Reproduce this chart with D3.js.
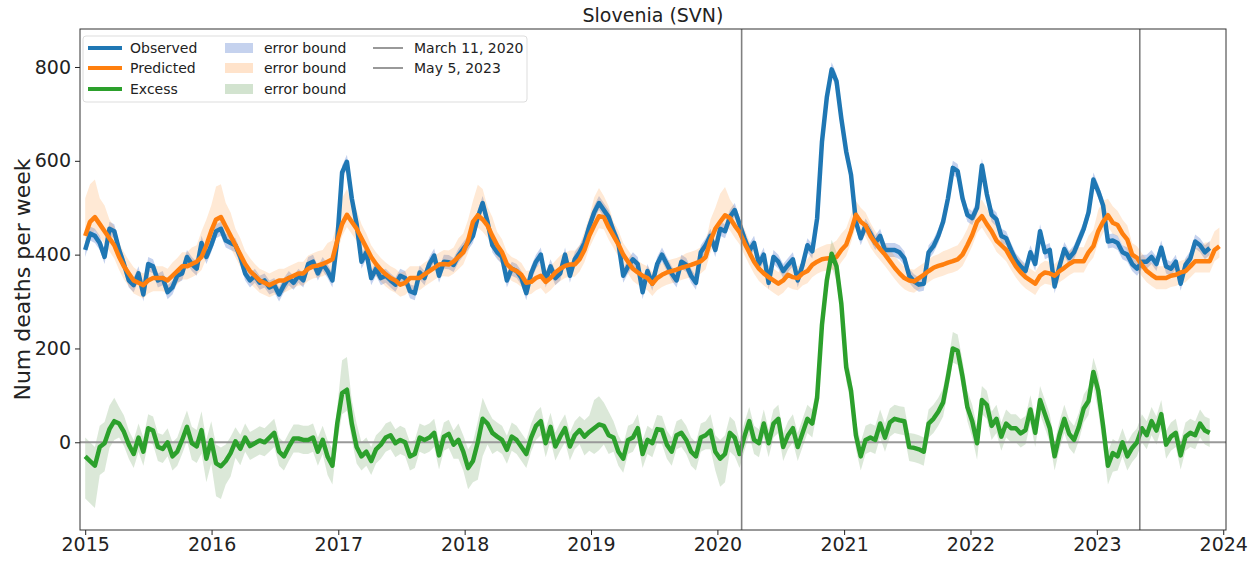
<!DOCTYPE html>
<html><head><meta charset="utf-8">
<script src="https://cdn.jsdelivr.net/npm/d3@7"></script>
<style>
body{margin:0;background:#fff;}
svg{display:block;font-family:"DejaVu Sans",sans-serif;}
</style></head><body>
<svg id="c" width="1259" height="561"></svg>
<script>
// ---- data (biweekly samples starting at startDate) ----
const startDate = "2015-01-01";
const stepDays = 14;
const observed = [
410,445,440,425,395,455,450,410,380,345,
335,360,315,380,375,345,350,320,330,355,
360,395,380,370,425,395,420,450,455,430,
425,420,395,360,345,355,340,345,330,335,
315,335,350,340,355,345,380,385,
360,380,365,345,430,575,598,520,465,385,
405,350,370,350,355,345,336,355,350,322,
318,362,350,380,398,355,385,384,378,398,
412,425,440,480,510,470,420,405,395,345,
370,365,350,318,360,385,400,
345,375,350,360,400,355,390,405,425,460,
490,510,495,480,450,425,355,375,390,380,
320,365,338,380,400,380,360,345,385,378,
355,340,405,420,440,410,455,450,480,495,
465,435,408,425,380,400,340,
395,385,365,378,390,345,378,420,407,477,
640,735,795,770,690,620,570,470,435,462,
445,425,440,410,410,410,405,392,355,343,
336,338,405,418,440,470,520,585,578,520,
485,478,500,590,530,485,475,440,
435,410,388,375,365,405,380,450,405,410,
332,375,412,393,405,430,455,490,560,535,
505,428,430,425,405,400,380,370,385,385,
395,380,415,375,370,385,338,378,392,428,
420,405,414];
const predicted = [
440,470,480,465,450,435,420,395,375,360,
345,340,335,345,350,350,350,345,355,365,
375,375,380,385,395,420,450,475,480,460,
440,420,400,380,365,355,345,340,335,340,
345,345,350,355,360,360,370,375,
377,380,385,390,430,465,485,470,455,435,
415,395,380,368,358,350,345,336,340,350,
350,350,358,365,372,379,380,379,385,395,
405,430,470,484,475,462,440,420,405,380,
370,365,357,340,342,350,355,
342,350,362,370,376,379,379,390,410,440,
462,482,480,458,440,422,400,385,370,362,
355,350,338,350,357,362,365,368,372,375,
378,382,386,395,430,455,470,484,478,462,
448,425,405,385,370,360,352,
345,338,345,357,352,350,360,365,378,385,
390,392,393,395,410,421,450,485,470,462,
440,425,412,400,386,372,360,350,345,343,
350,357,365,372,376,379,383,386,390,400,
420,442,470,482,465,450,430,420,
410,392,375,362,352,345,338,355,362,360,
355,365,372,380,386,386,386,405,418,450,
470,484,468,463,445,432,400,393,378,365,
357,350,350,350,355,357,362,365,375,386,
386,386,386,410,418];
const excess = [
-30,-40,-50,-10,-2,28,45,40,22,-5,
-25,10,-20,30,25,-10,-14,0,-30,-20,
5,33,-2,-9,26,-35,5,-45,-51,-40,
-23,2,-14,10,-8,-2,4,0,10,20,
-20,-30,-10,8,8,5,5,10,
-20,5,-30,-50,40,105,112,40,-10,-30,
-20,-40,-15,-5,10,15,-2,5,0,-30,
-25,10,5,10,20,-28,12,18,-5,5,
-20,-55,-40,0,50,40,20,12,5,-16,
12,5,-10,-25,10,35,45,
-2,33,-9,12,30,-9,15,26,12,22,
30,38,35,15,10,-20,-35,5,10,30,
-25,5,-2,28,26,-5,-20,15,20,5,
-20,-30,10,15,25,-20,-35,-25,20,10,
-25,12,45,5,-2,40,-2,
40,50,-10,15,30,-10,20,50,40,95,
250,345,402,375,295,160,110,15,-30,5,
10,5,40,10,42,50,47,45,-10,-12,
-15,-20,40,50,65,85,140,200,195,140,
75,45,-2,90,80,35,50,12,
40,30,30,19,26,70,20,90,60,30,
-30,15,50,18,5,33,72,88,150,110,
35,-50,-23,-30,0,-30,-12,0,30,15,
45,25,60,-5,12,20,-28,12,20,15,
40,25,20];
// error half-widths: per year
const obsErr = [15,15,15,15,15,15,15,15,15];
const predLoErr = [28,26,26,26,26,26,24,24,24];
// error half-widths: per month (Jan 2015 .. Dec 2023)
const predHiErr = [
80,55,40,30,28,25,25,25,28,30,35,55,
70,50,35,28,25,25,25,25,25,28,30,40,
55,40,30,25,25,25,25,25,25,25,30,40,
45,65,40,28,25,25,25,25,25,28,30,40,
60,45,30,25,25,25,25,25,25,28,30,45,
60,40,30,25,25,25,25,25,25,28,30,35,
35,30,28,25,25,25,25,25,25,28,30,35,
40,35,30,25,25,25,25,25,25,28,30,35,
45,35,30,25,25,25,25,25,25,28,40,40];
const excLoErr = [
90,60,40,30,30,30,30,30,30,30,35,50,
70,50,35,30,30,30,30,30,30,30,30,40,
45,35,30,30,30,30,30,30,30,30,30,40,
45,80,45,30,30,30,30,30,30,30,30,40,
55,40,30,30,30,30,30,30,30,30,30,40,
60,40,30,30,30,30,30,30,30,30,30,30,
30,30,30,30,30,30,30,30,30,30,30,30,
35,30,30,30,30,30,30,30,30,30,30,30,
45,40,30,30,30,30,30,30,30,30,30,30];
const excHiErr = [
40,45,50,35,30,30,30,30,30,35,35,40,
40,35,30,30,30,30,30,30,30,30,30,35,
70,50,30,30,30,30,30,30,30,30,30,35,
40,45,30,30,30,30,30,30,30,30,30,35,
60,50,35,30,30,30,30,30,30,30,30,35,
40,35,30,30,30,30,30,30,30,30,30,30,
30,30,30,30,30,30,30,30,30,30,35,35,
35,30,30,30,30,30,30,30,30,30,30,30,
35,30,30,30,30,30,30,30,30,30,30,30];
const yearTicks = [2015,2016,2017,2018,2019,2020,2021,2022,2023,2024];
const yTicks = [0,200,400,600,800];
const markerDates = ["2020-03-11","2023-05-05"];
const markerLabels = ["March 11, 2020","May 5, 2023"];
const titleText = "Slovenia (SVN)";
const yLabel = "Num deaths per week";

// ---- drawing ----
const parse = d3.timeParse("%Y-%m-%d");
const t0 = parse(startDate);
const dateAt = i => d3.timeDay.offset(t0, i*stepDays);
const monthIdx = d => (d.getFullYear()-2015)*12 + d.getMonth();
const yearIdx = d => Math.min(8, d.getFullYear()-2015);

const L=80, R=1226, T=29, B=530;
const x = d3.scaleTime().domain([parse("2014-12-17"), parse("2024-01-09")]).range([L,R]);
const y = d3.scaleLinear().domain([-187, 881]).range([B,T]);

const svg = d3.select("#c");
const C = {obs:"#1f77b4", pred:"#ff7f0e", exc:"#2ca02c"};

const obsPts = observed.map((v,i)=>{const d=dateAt(i);return {d,v,lo:v-obsErr[yearIdx(d)],hi:v+obsErr[yearIdx(d)]};});
const predPts = predicted.map((v,i)=>{const d=dateAt(i);return {d,v,lo:v-predLoErr[yearIdx(d)],hi:v+predHiErr[monthIdx(d)]};});
const excPts = excess.map((v,i)=>{const d=dateAt(i);return {d,v,lo:v-excLoErr[monthIdx(d)],hi:v+excHiErr[monthIdx(d)]};});

const area = d3.area().x(p=>x(p.d)).y0(p=>y(p.lo)).y1(p=>y(p.hi));
const line = d3.line().x(p=>x(p.d)).y(p=>y(p.v));

const g = svg.append("g");
g.append("path").attr("d",area(excPts)).attr("fill","#8fb887").attr("opacity",0.32);
g.append("path").attr("d",area(obsPts)).attr("fill","#6d8fd4").attr("opacity",0.4);
g.append("path").attr("d",area(predPts)).attr("fill","#ff8f2e").attr("opacity",0.2);

// zero line
g.append("line").attr("x1",L).attr("x2",R).attr("y1",y(0)).attr("y2",y(0))
 .attr("stroke","#999").attr("stroke-width",2);

g.append("path").attr("d",line(obsPts)).attr("fill","none").attr("stroke",C.obs).attr("stroke-width",4.5).attr("stroke-linejoin","round");
g.append("path").attr("d",line(predPts)).attr("fill","none").attr("stroke",C.pred).attr("stroke-width",4.5).attr("stroke-linejoin","round");
g.append("path").attr("d",line(excPts)).attr("fill","none").attr("stroke",C.exc).attr("stroke-width",4.5).attr("stroke-linejoin","round");

// vertical markers
markerDates.forEach(s=>{
  const xx = x(parse(s));
  g.append("line").attr("x1",xx).attr("x2",xx).attr("y1",T).attr("y2",B)
   .attr("stroke","#808080").attr("stroke-width",1.6);
});

// axes
const xAxis = d3.axisBottom(x)
  .tickValues(yearTicks.map(yr=>new Date(yr,0,1)))
  .tickFormat(d3.timeFormat("%Y")).tickSize(5).tickPadding(3).tickSizeOuter(0);
const gx = svg.append("g").attr("transform",`translate(0,${B})`).call(xAxis);
gx.select(".domain").remove();
gx.selectAll("text").attr("font-size",19).attr("fill","#222").attr("font-family","DejaVu Sans");
gx.selectAll("line").attr("stroke","#222");

const yAxis = d3.axisLeft(y).tickValues(yTicks).tickSize(5).tickPadding(4).tickSizeOuter(0);
const gy = svg.append("g").attr("transform",`translate(${L},0)`).call(yAxis);
gy.select(".domain").remove();
gy.selectAll("text").attr("font-size",19).attr("fill","#222").attr("font-family","DejaVu Sans");
gy.selectAll("line").attr("stroke","#222");

// frame
svg.append("rect").attr("x",L).attr("y",T).attr("width",R-L).attr("height",B-T)
  .attr("fill","none").attr("stroke","#333").attr("stroke-width",1);

// title & y label
svg.append("text").attr("x",(L+R)/2).attr("y",22).attr("text-anchor","middle")
  .attr("font-size",19).attr("fill","#222").text(titleText);
svg.append("text").attr("transform",`translate(30,${(T+B)/2}) rotate(-90)`)
  .attr("text-anchor","middle").attr("font-size",22).attr("fill","#222").text(yLabel);

// legend
const lg = svg.append("g");
lg.append("rect").attr("x",83).attr("y",36).attr("width",444).attr("height",66).attr("rx",3)
  .attr("fill","#fff").attr("fill-opacity",0.85).attr("stroke","#ddd");
const rows = [48,68,89];
const lineItems = [["Observed",C.obs],["Predicted",C.pred],["Excess",C.exc]];
lineItems.forEach(([t,c],k)=>{
  lg.append("line").attr("x1",88).attr("x2",122).attr("y1",rows[k]).attr("y2",rows[k]).attr("stroke",c).attr("stroke-width",4);
  lg.append("text").attr("x",130).attr("y",rows[k]).attr("dy","0.36em").attr("font-size",14).attr("fill","#222").text(t);
});
const patchItems = [["#6d8fd4",0.4],["#ff8f2e",0.25],["#8fb887",0.4]];
patchItems.forEach(([c,o],k)=>{
  lg.append("rect").attr("x",225).attr("y",rows[k]-5).attr("width",28).attr("height",10).attr("fill",c).attr("opacity",o);
  lg.append("text").attr("x",264).attr("y",rows[k]).attr("dy","0.36em").attr("font-size",14).attr("fill","#222").text("error bound");
});
markerLabels.forEach((t,k)=>{
  lg.append("line").attr("x1",373).attr("x2",403).attr("y1",rows[k]).attr("y2",rows[k]).attr("stroke","#999").attr("stroke-width",2);
  lg.append("text").attr("x",414).attr("y",rows[k]).attr("dy","0.36em").attr("font-size",14).attr("fill","#222").text(t);
});
</script>
</body></html>
